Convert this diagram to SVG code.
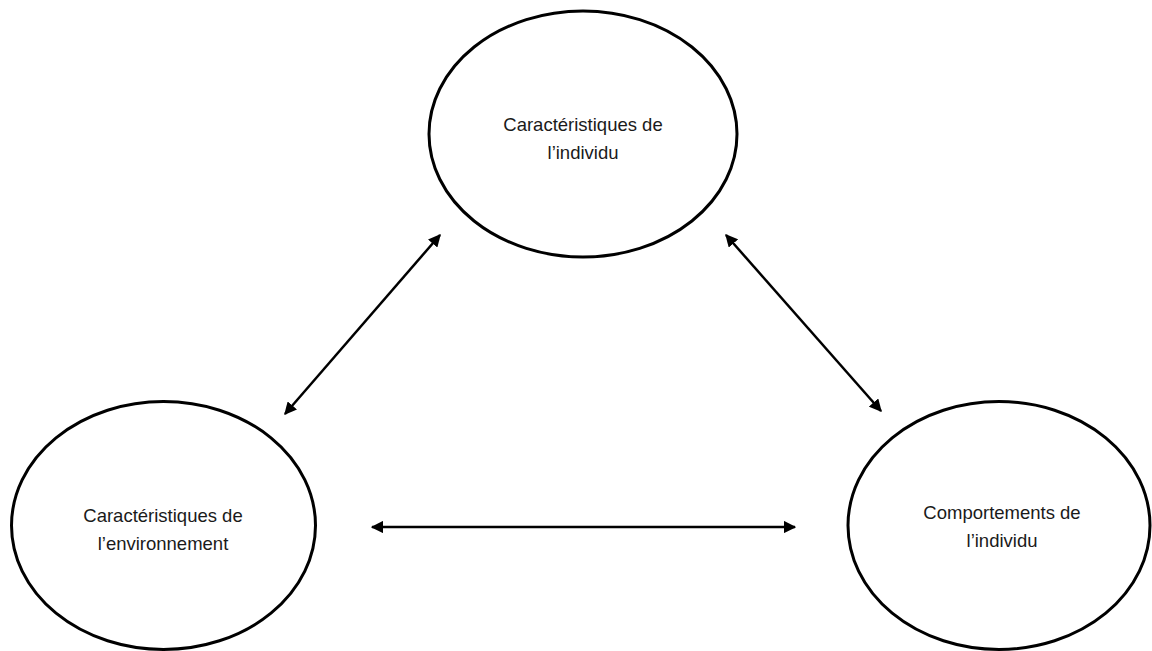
<svg xmlns="http://www.w3.org/2000/svg" width="1152" height="651" viewBox="0 0 1152 651">
  <defs>
    <style>
      .node { fill: #ffffff; stroke: #000000; stroke-width: 3; }
      .label { font-family: "Liberation Sans", Arial, sans-serif; font-size: 18.5px; fill: #1a1a1a; text-anchor: middle; }
      .link { stroke: #000000; stroke-width: 2.5; fill: none; marker-start: url(#head); marker-end: url(#head); }
    </style>
    <marker id="head" viewBox="0 0 10 10" refX="9" refY="5" markerWidth="5" markerHeight="5" orient="auto-start-reverse" markerUnits="strokeWidth">
      <path d="M0,0 L10,5 L0,10 Z" fill="#000000"/>
    </marker>
  </defs>
  <rect width="1152" height="651" fill="#ffffff"/>

  <g id="individu">
    <ellipse class="node" cx="583" cy="134" rx="154" ry="123"/>
    <text class="label" x="583" y="131">Caractéristiques de</text>
    <text class="label" x="583" y="159">l’individu</text>
  </g>

  <g id="environnement">
    <ellipse class="node" cx="163.5" cy="525.5" rx="152" ry="124"/>
    <text class="label" x="163" y="522">Caractéristiques de</text>
    <text class="label" x="163" y="550">l’environnement</text>
  </g>

  <g id="comportements">
    <ellipse class="node" cx="999" cy="525.5" rx="151" ry="124"/>
    <text class="label" x="1002" y="519">Comportements de</text>
    <text class="label" x="1002" y="547">l’individu</text>
  </g>

  <g id="connectors">
    <line class="link" x1="440" y1="235" x2="285" y2="414"/>
    <line class="link" x1="726" y1="235" x2="881" y2="411"/>
    <line class="link" x1="372" y1="527" x2="795" y2="527"/>
  </g>
</svg>
